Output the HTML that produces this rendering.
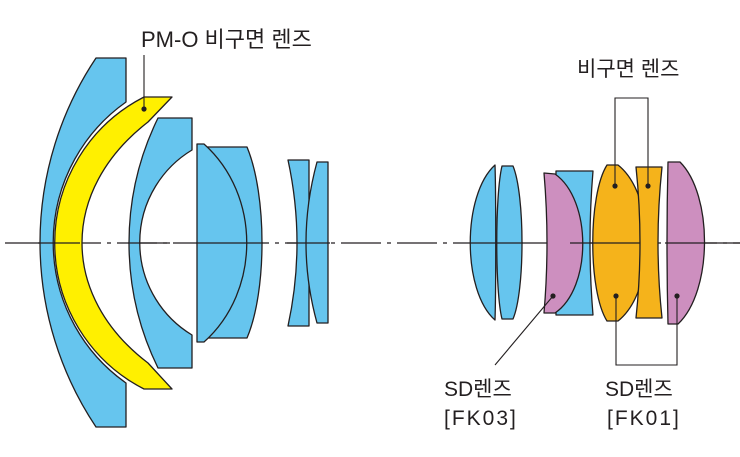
<!DOCTYPE html>
<html><head><meta charset="utf-8"><style>
html,body{margin:0;padding:0;background:#fff;}
svg{display:block}
text{font-family:"Liberation Sans","Noto Sans CJK KR",sans-serif;fill:#231f20}
</style></head><body>
<svg width="740" height="457" viewBox="0 0 740 457">
<line x1="5" y1="243" x2="740" y2="243" stroke="#231f20" stroke-width="1.3" stroke-dasharray="40,6,4,6"/>
<g stroke="#231f20" stroke-width="1.3" stroke-linejoin="round">
<path d="M96,58 L126,58 L126,102 A172,172 0 0 0 126,383 L126,427 L96,427 A332,332 0 0 1 96,58 Z" fill="#66c5ee"/>
<path d="M144,97 L172,97 L148,122 C60,190 60,296 148,363 L172,389 L144,389 A164,164 0 0 1 144,97 Z" fill="#fff000"/>
<path d="M158,118 L192,118 L192,150 A108,108 0 0 0 192,335 L192,368 L158,368 A284,284 0 0 1 158,118 Z" fill="#66c5ee"/>
<path d="M204,147 L247,147 C267,195 267,291 247,338 L208,338 Z" fill="#66c5ee"/>
<path d="M197,144 L204,144 C261,195 261,291 204,342 L197,342 Z" fill="#66c5ee"/>
<path d="M288,160 L309,160 L309,326 L288,326 Q306,243 288,160 Z" fill="#66c5ee"/>
<path d="M317,162 L328,162 L328,323 L317,323 Q295,243 317,162 Z" fill="#66c5ee"/>
<path d="M495,165 C462,195 462,291 495,320 C496,291 496,195 495,165 Z" fill="#66c5ee"/>
<path d="M502,166 L513,166 C525,195 525,291 513,319 L502,319 C495,291 495,195 502,166 Z" fill="#66c5ee"/>
<path d="M556,171 L593,171 Q587,243 593,315 L556,315 Z" fill="#66c5ee"/>
<path d="M544,173 L555,174 C592,200 592,288 555,313 L544,313 Q550,243 544,173 Z" fill="#cd8fbf"/>
<path d="M607,165 L618,165 C656,195 656,291 618,321 L607,321 C588,291 588,195 607,165 Z" fill="#f5b31b"/>
<path d="M636,167 L662,167 Q654,243 662,318 L636,318 Q644,243 636,167 Z" fill="#f5b31b"/>
<path d="M668,162 L680,162 C713,195 713,291 678,324 L668,324 Q666,243 668,162 Z" fill="#cd8fbf"/>
</g>
<g stroke="#231f20" stroke-width="1.3">
<line x1="38" y1="243" x2="80" y2="243"/>
<line x1="128" y1="243" x2="170" y2="243"/>
<line x1="196" y1="243" x2="263" y2="243"/>
<line x1="287" y1="243" x2="330" y2="243"/>
<line x1="470" y1="243" x2="523" y2="243"/>
<line x1="570" y1="243" x2="640" y2="243"/>
<line x1="665" y1="243" x2="740" y2="243"/>
</g>
<g stroke="#231f20" stroke-width="1.1" fill="none">
<line x1="144" y1="109" x2="144" y2="55"/>
<polyline points="615,186 615,98 648,98 648,186"/>
<polyline points="616,296 616,365 677,365 677,296"/>
<line x1="553" y1="296" x2="495" y2="365"/>
</g>
<g fill="#231f20">
<circle cx="144" cy="109" r="2.6"/>
<circle cx="615" cy="186" r="2.6"/>
<circle cx="648" cy="186" r="2.6"/>
<circle cx="616" cy="296" r="2.6"/>
<circle cx="677" cy="296" r="2.6"/>
<circle cx="553" cy="296" r="2.6"/>
</g>
<text x="141" y="47" font-size="22">PM-O 비구면 렌즈</text>
<text x="577" y="76" font-size="21">비구면 렌즈</text>
<text x="444" y="396" font-size="21">SD렌즈</text>
<text x="444" y="425" font-size="21" letter-spacing="2">[FK03]</text>
<text x="605" y="396" font-size="21">SD렌즈</text>
<text x="607" y="425" font-size="21" letter-spacing="2">[FK01]</text>
</svg>
</body></html>
